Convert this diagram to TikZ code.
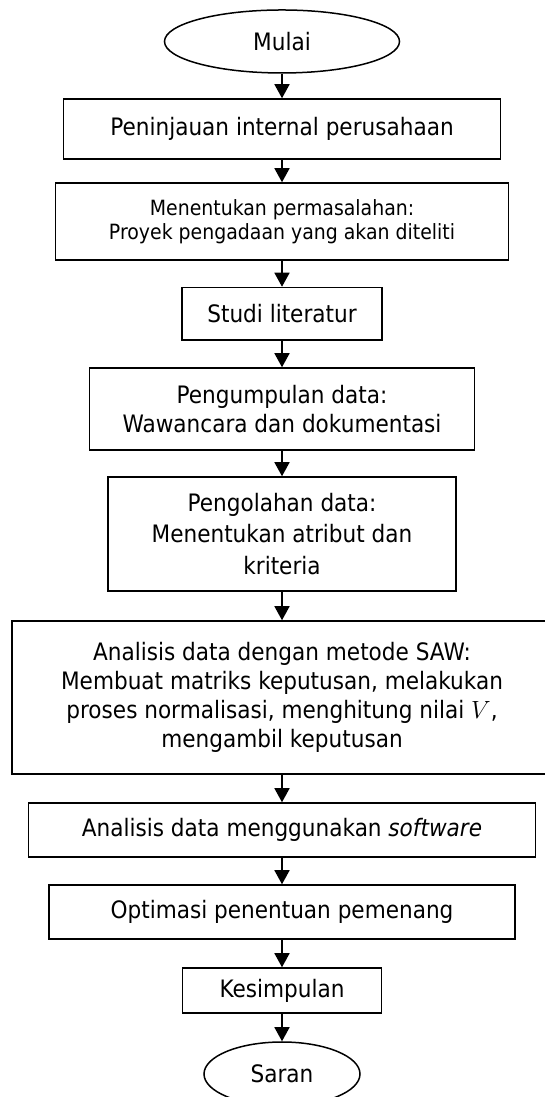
\documentclass[tikz,border=0pt]{standalone}
\usepackage{fontspec}
\setmainfont{DejaVu Sans}[FakeStretch=0.9]
\usetikzlibrary{shapes.geometric,arrows.meta}
\newcommand\mainfs{\fontsize{24}{29}\selectfont}
\newcommand\smallfs{\fontsize{21}{24.5}\selectfont}
\begin{document}
\begin{tikzpicture}[x=1pt,y=1pt,
  box/.style={draw, line width=1.5pt, rectangle, inner sep=0pt, align=center, font=\mainfs},
  term/.style={draw, line width=1.5pt, ellipse, inner sep=0pt, align=center, font=\mainfs},
  arr/.style={line width=1.5pt, -{Triangle[length=14pt,width=15pt]}}]
\useasboundingbox (0,0) rectangle (545,1097);
\node[term, minimum width=235pt, minimum height=63pt] (mulai) at (282,1055.5) {Mulai};
\node[box, minimum width=437pt, minimum height=60pt] (b1) at (282,968) {Peninjauan internal perusahaan};
\node[box, minimum width=453pt, minimum height=77pt, font=\smallfs] (b2) at (282,875.5) {Menentukan permasalahan:\\Proyek pengadaan yang akan diteliti};
\node[box, minimum width=200pt, minimum height=52.5pt] (b3) at (282,783.25) {Studi literatur};
\node[box, minimum width=385pt, minimum height=82pt] (b4) at (282,688) {Pengumpulan data:\\Wawancara dan dokumentasi};
\node[box, minimum width=348pt, minimum height=114pt, font=\fontsize{24}{31.5}\selectfont] (b5) at (282,563) {Pengolahan data:\\Menentukan atribut dan\\kriteria};
\node[box, minimum width=540pt, minimum height=153pt] (b6) at (282,399.5) {Analisis data dengan metode SAW:\\Membuat matriks keputusan, melakukan\\proses normalisasi, menghitung nilai $V$,\\mengambil keputusan};
\node[box, minimum width=507pt, minimum height=54pt] (b7) at (282,267) {Analisis data menggunakan \textit{software}};
\node[box, minimum width=466pt, minimum height=54pt] (b8) at (282,185) {Optimasi penentuan pemenang};
\node[box, minimum width=199pt, minimum height=45pt] (b9) at (282,106.5) {Kesimpulan};
\node[term, minimum width=156pt, minimum height=64pt] (saran) at (282,23) {Saran};
\draw[arr] (mulai) -- (b1);
\draw[arr] (b1) -- (b2);
\draw[arr] (b2) -- (b3);
\draw[arr] (b3) -- (b4);
\draw[arr] (b4) -- (b5);
\draw[arr] (b5) -- (b6);
\draw[arr] (b6) -- (b7);
\draw[arr] (b7) -- (b8);
\draw[arr] (b8) -- (b9);
\draw[arr] (b9) -- (saran);
\end{tikzpicture}
\end{document}
